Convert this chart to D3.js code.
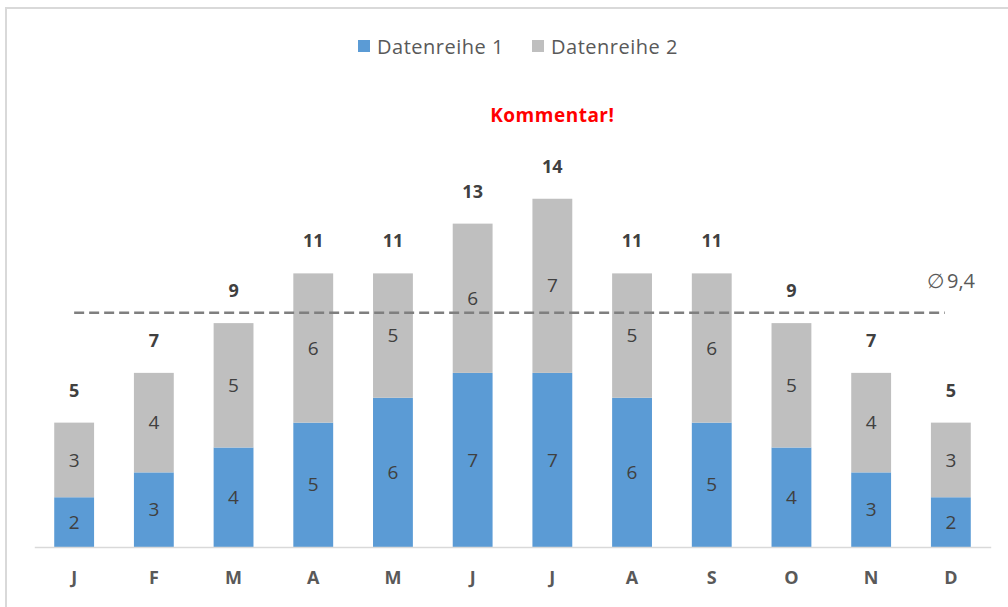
<!DOCTYPE html>
<html>
<head>
<meta charset="utf-8">
<script src="https://cdn.jsdelivr.net/npm/d3@7"></script>
<style>
  body { margin: 0; background: #fff; }
  svg { display: block; font-family: 'Open Sans', sans-serif; }
</style>
</head>
<body>
<div id="chart"></div>
<script>
const months = ['J', 'F', 'M', 'A', 'M', 'J', 'J', 'A', 'S', 'O', 'N', 'D'];
const series1 = [2, 3, 4, 5, 6, 7, 7, 6, 5, 4, 3, 2];
const series2 = [3, 4, 5, 6, 5, 6, 7, 5, 6, 5, 4, 3];
const seriesNames = ['Datenreihe 1', 'Datenreihe 2'];
const colors = ['#5b9bd5', '#bfbfbf'];
const comment = { index: 6, text: 'Kommentar!' };

const width = 1008;
const height = 607;

const svg = d3.select('#chart')
  .append('svg')
  .attr('width', width)
  .attr('height', height);

// chart frame
svg.append('rect')
  .attr('x', 6)
  .attr('y', 8)
  .attr('width', width + 10)
  .attr('height', height + 10)
  .attr('fill', 'none')
  .attr('stroke', '#d9d9d9')
  .attr('stroke-width', 2);

const keys = months.map((m, i) => i);
const x = d3.scaleBand()
  .domain(keys)
  .range([34.3, 990.7])
  .paddingInner(0.5)
  .paddingOuter(0.25);

const y = d3.scaleLinear()
  .domain([0, 16])
  .range([547, 149]);

const rows = keys.map((i) => ({ i, s1: series1[i], s2: series2[i] }));
const stacked = d3.stack().keys(['s1', 's2'])(rows);

const layers = svg.selectAll('g.layer')
  .data(stacked)
  .enter()
  .append('g')
  .attr('class', 'layer')
  .attr('fill', (d, k) => colors[k]);

layers.selectAll('rect')
  .data((d) => d)
  .enter()
  .append('rect')
  .attr('x', (d) => x(d.data.i))
  .attr('y', (d) => y(d[1]))
  .attr('width', x.bandwidth())
  .attr('height', (d) => y(d[0]) - y(d[1]));

// values inside segments
layers.selectAll('text')
  .data((d) => d)
  .enter()
  .append('text')
  .attr('x', (d) => x(d.data.i) + x.bandwidth() / 2)
  .attr('y', (d) => (y(d[0]) + y(d[1])) / 2)
  .attr('dy', '0.35em')
  .attr('text-anchor', 'middle')
  .attr('fill', '#404040')
  .style('font-size', '19px')
  .text((d) => d[1] - d[0]);

// totals
const totals = keys.map((i) => series1[i] + series2[i]);
svg.append('g')
  .selectAll('text')
  .data(keys)
  .enter()
  .append('text')
  .attr('x', (i) => x(i) + x.bandwidth() / 2)
  .attr('y', (i) => y(totals[i]) - 26)
  .attr('text-anchor', 'middle')
  .attr('fill', '#404040')
  .style('font-size', '18px')
  .style('font-weight', 'bold')
  .text((i) => totals[i]);

// axis
const xAxis = svg.append('g')
  .attr('transform', `translate(0,${y(0)})`)
  .call(d3.axisBottom(x).tickSize(0).tickPadding(24).tickFormat((i) => months[i]));
xAxis.select('.domain').attr('stroke', '#d9d9d9').attr('stroke-width', 1.5);
xAxis.selectAll('text')
  .attr('fill', '#595959')
  .style('font-family', "'Open Sans', sans-serif")
  .style('font-size', '18px')
  .style('font-weight', 'bold');

// average line
const avg = d3.mean(totals);
const first = keys[0];
const last = keys[keys.length - 1];
svg.append('line')
  .attr('x1', x(first) + x.bandwidth() / 2)
  .attr('x2', x(last) + x.bandwidth() / 2 - 6)
  .attr('y1', y(avg))
  .attr('y2', y(avg))
  .attr('stroke', '#7f7f7f')
  .attr('stroke-width', 2.5)
  .attr('stroke-dasharray', '10,5');

svg.append('text')
  .attr('x', x(last) + x.bandwidth() / 2)
  .attr('y', y(avg) - 25)
  .attr('text-anchor', 'middle')
  .attr('fill', '#595959')
  .style('font-size', '20px')
  .text(`\u2205\u2009${d3.format('.1f')(avg).replace('.', ',')}`);

// comment
svg.append('text')
  .attr('x', x(comment.index) + x.bandwidth() / 2)
  .attr('y', 122)
  .attr('text-anchor', 'middle')
  .attr('fill', '#ff0000')
  .style('font-size', '19px')
  .style('font-weight', 'bold')
  .style('letter-spacing', '0.5px')
  .text(comment.text);

// legend
const legend = svg.append('g');
const legendX = [358, 532];
seriesNames.forEach((name, k) => {
  legend.append('rect')
    .attr('x', legendX[k])
    .attr('y', 40)
    .attr('width', 12)
    .attr('height', 12)
    .attr('fill', colors[k]);
  legend.append('text')
    .attr('x', legendX[k] + 19)
    .attr('y', 54)
    .attr('fill', '#595959')
    .style('font-size', '20px')
    .style('letter-spacing', '0.5px')
    .text(name);
});
</script>
</body>
</html>
